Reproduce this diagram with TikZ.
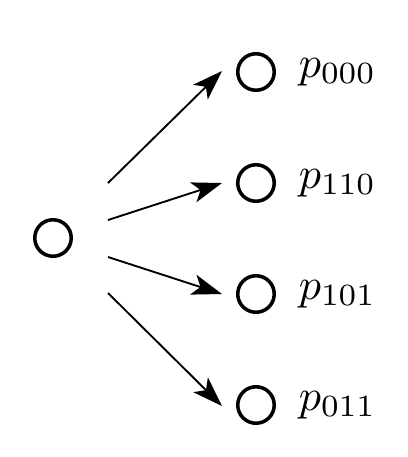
\documentclass[tikz,border=0pt]{standalone}
\usetikzlibrary{arrows.meta}
\begin{document}
\begin{tikzpicture}[x=0.2128pt,y=-0.2128pt,
  state/.style={circle,draw,line width=0.75pt,minimum size=36.5*0.2128pt,inner sep=0pt},
  edge/.style={line width=0.4pt,-{Stealth[length=6.4pt,width=4.4pt,inset=1.6pt]}},
  lab/.style={anchor=base west,inner sep=0pt,scale=0.94}]
\useasboundingbox (0,0) rectangle (408,457);
\node[state] (L) at (53,238) {};
\node[state] (A) at (256,72) {};
\node[state] (B) at (256,183) {};
\node[state] (C) at (256,294) {};
\node[state] (D) at (256,405) {};
\node[lab] (la) at (298,77) {$p_{000}$};
\node[lab] (lb) at (298,188) {$p_{110}$};
\node[lab] (lc) at (298,299) {$p_{101}$};
\node[lab] (ld) at (298,410) {$p_{011}$};
\coordinate (s1) at (108,183);
\coordinate (s2) at (108,220);
\coordinate (s3) at (108,257);
\coordinate (s4) at (108,293);
\coordinate (e1) at (222,71);
\coordinate (e2) at (222,183);
\coordinate (e3) at (222,294);
\coordinate (e4) at (222,406);
\draw[edge] (s1) -- (e1);
\draw[edge] (s2) -- (e2);
\draw[edge] (s3) -- (e3);
\draw[edge] (s4) -- (e4);
\end{tikzpicture}
\end{document}
